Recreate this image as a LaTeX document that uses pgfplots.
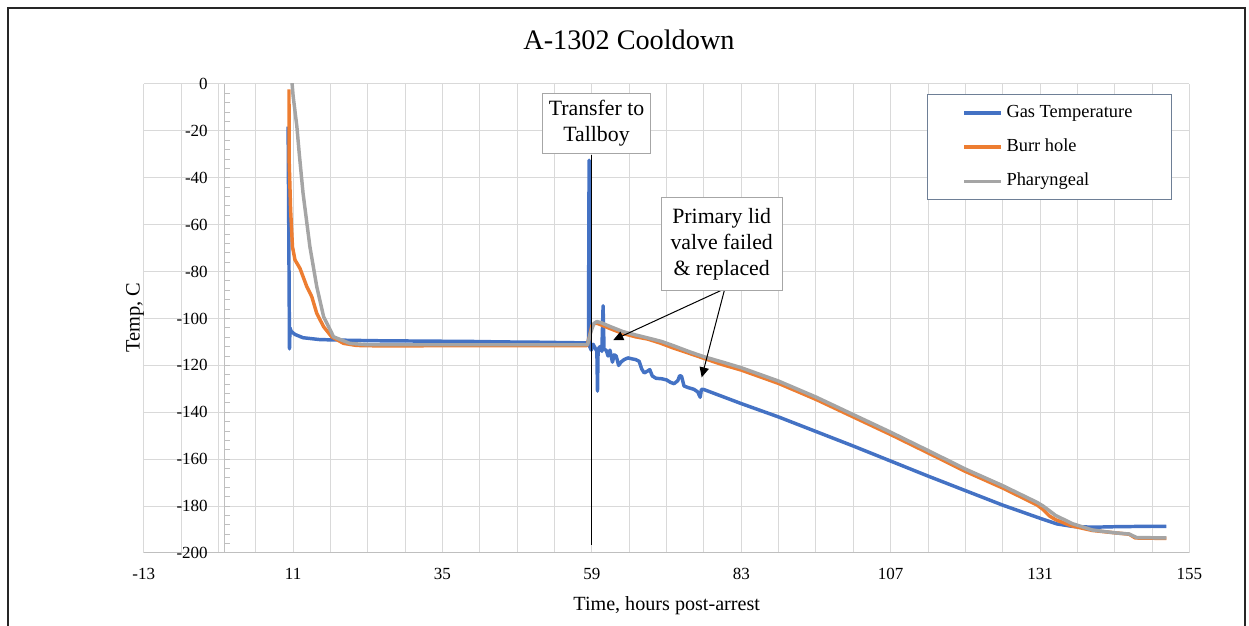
\documentclass[border=0pt]{standalone}
\usepackage{fontspec}
\setmainfont{Liberation Serif}
\usepackage{pgfplots}
\pgfplotsset{compat=1.18}
\usetikzlibrary{arrows.meta}

\definecolor{gasblue}{HTML}{4472C4}
\definecolor{burrorange}{HTML}{ED7D31}
\definecolor{pharygray}{HTML}{A5A5A5}
\definecolor{gridgray}{HTML}{D9D9D9}
\definecolor{axisgray}{HTML}{BFBFBF}
\definecolor{boxgray}{HTML}{A6A6A6}
\definecolor{legendgray}{HTML}{6E7F96}

\begin{document}
\begin{tikzpicture}
% page = 1249 x 626 px, 1 px = 0.75pt, plot area at px (143.7,84)-(1189.5,553)
\useasboundingbox (-107.78pt,-54.75pt) rectangle (829.0pt,414.75pt);
\draw[line width=1.1pt, black!85] (-101.8pt,-70pt) rectangle (826pt,408.75pt);
\begin{axis}[
    at={(0,0)}, anchor=south west,
    scale only axis, width=784.35pt, height=351.75pt,
    xmin=-13, xmax=155, ymin=-200, ymax=0,
    xtick={-13,11,...,155}, ytick={-200,-180,...,0},
    minor x tick num=3,
    grid=both,
    major grid style={draw=gridgray, line width=0.75pt},
    minor grid style={draw=gridgray, line width=0.75pt},
    major tick length=0pt, minor tick length=0pt,
    axis x line*=bottom, axis y line*=left,
    x axis line style={draw=axisgray, line width=0.75pt},
    y axis line style={draw=none},
    /pgf/number format/assume math mode=true,
    xticklabel style={font=\fontsize{12.75}{15}\selectfont, yshift=-7.7pt},
    yticklabel style={font=\fontsize{12.75}{15}\selectfont, anchor=east, inner xsep=0pt, xshift=48.2pt},
    title={A-1302 Cooldown},
    title style={at={(axis description cs:0.464,1.0555)}, anchor=base, font=\fontsize{21.2}{25}\selectfont},
    xlabel={Time, hours post-arrest},
    xlabel style={at={(axis description cs:0.5001,-0.1235)}, anchor=base, font=\fontsize{15.1}{18}\selectfont},
    ylabel={Temp, C},
    ylabel style={at={(axis description cs:-0.0040,0.502)}, anchor=base, rotate=0, font=\fontsize{15.3}{18}\selectfont},
    legend style={at={(0.7487,0.9787)}, anchor=north west, draw=legendgray, line width=1pt, fill=white,
        inner xsep=26.45pt, inner ysep=7.4pt, row sep=13.15pt,
        font=\fontsize{13.8}{16}\selectfont,
        nodes={inner xsep=2.6pt, inner ysep=0pt, text height=9.5pt, text depth=3pt}},
    legend cell align=left,
    legend image code/.code={\draw[#1, line width=2.6pt] (0pt,0pt) -- (27.75pt,0pt);},
]
\draw[axisgray, line width=0.75pt] (axis cs:0,-200) -- (axis cs:0,0);
\pgfplotsinvokeforeach{-196,-192,...,-4}{
    \draw[axisgray, line width=0.75pt] (axis cs:0,#1) -- ++(3.75pt,0pt);
}

\addplot[gasblue, line width=2.6pt, line join=round, mark=none] coordinates {
(10.2,-18.2) (10.3,-60) (10.42,-113) (10.5,-104) (10.7,-105.5) (11.3,-106.8) (12.6,-108.2)
(15.3,-109) (20,-109.3) (25,-109.5) (30,-109.6) (35,-109.7) (40,-109.8) (45,-110)
(50,-110.1) (55,-110.3) (58.2,-110.4) (58.45,-110.3) (58.55,-32.5) (58.65,-112)
(58.9,-113.5) (59.2,-111) (59.5,-112.5) (59.8,-114) (59.9,-131) (60.0,-113) (60.3,-112)
(60.6,-114) (60.8,-94.6) (60.95,-113) (61.3,-113.6) (61.6,-116) (61.9,-113.5) (62.3,-118.6)
(62.6,-115.5) (62.9,-116) (63.3,-120) (63.7,-118.5) (64.2,-117.5) (64.8,-116.8) (65.4,-117.2)
(66.0,-117.5) (66.6,-118.3) (67.0,-121.5) (67.4,-123.2) (67.9,-122.5) (68.3,-121.8)
(68.7,-124.5) (69.3,-125.5) (70.2,-125.7) (71.0,-126.2) (71.6,-127.2) (72.2,-127.8)
(72.8,-126.5) (73.1,-124.4) (73.4,-124.6) (73.8,-128.8) (74.5,-129.5) (75.4,-130.2)
(76.0,-131.3) (76.4,-133.6) (76.6,-130.2) (77.0,-130.3) (80,-133.3) (83,-136.3) (89,-142)
(95,-148.2) (101,-154.4) (107,-160.8) (113,-167.2) (119,-173.4) (125,-179.6) (131,-185.2)
(133.7,-187.6) (136.3,-188.7) (139.5,-189) (143,-188.8) (146,-188.7) (149,-188.6) (151.3,-188.7)
};
\addlegendentry{Gas Temperature}

\addplot[burrorange, line width=2.6pt, line join=round, mark=none] coordinates {
(10.34,-2.3) (10.36,-32) (10.6,-53.7) (10.9,-69.4) (11.3,-75) (12.1,-78.6) (13.2,-86.4)
(14.0,-90.7) (14.8,-97.8) (15.9,-103.5) (17.2,-107.8) (19.1,-110.6) (21.2,-111.5)
(25,-111.7) (35,-111.6) (45,-111.6) (58.2,-111.6) (58.6,-108) (59.0,-103) (59.5,-102)
(60.0,-102.2) (61,-103.3) (62.4,-104.8) (64,-106.4) (66,-107.8) (68,-108.8) (70,-110.5)
(72,-112.5) (74.8,-115) (77,-117) (80,-119.7) (83,-122) (89,-127.7) (95,-134.5)
(101,-142) (107,-149.5) (113,-157.3) (119,-165.2) (125,-172.3) (130.5,-179.5)
(131.5,-181.5) (132.5,-184.2) (133.5,-185.8) (136,-188.4) (139.4,-190.4) (143,-191.4)
(145.3,-192) (146.3,-193.6) (151.3,-193.8)
};
\addlegendentry{Burr hole}

\addplot[pharygray, line width=2.6pt, line join=round, mark=none] coordinates {
(10.75,3) (11.0,-5) (11.6,-18) (12.0,-30) (12.6,-46.6) (13.7,-69.4) (14.8,-86.4)
(15.9,-99.2) (17.5,-107.8) (20.1,-110.6) (23,-111.2) (35,-111.2) (45,-111.2) (58.3,-111.2)
(58.8,-106) (59.3,-102.2) (59.8,-101.3) (60.5,-101.8) (62,-103.5) (64,-105.6) (66,-107)
(68,-108.3) (70.2,-109.8) (72,-111.5) (74.8,-114.3) (77,-116.3) (80,-118.6) (83,-121)
(89,-126.7) (95,-133.5) (101,-141) (107,-148.5) (113,-156.3) (119,-164.2) (125,-171.3)
(130.5,-178.4) (131.5,-180) (133.5,-184) (136.2,-187.5) (139.4,-190.2) (143,-191.4)
(145.3,-191.9) (146.5,-193.4) (151.3,-193.6)
};
\addlegendentry{Pharyngeal}

\draw[black, line width=0.75pt] (axis cs:59,-30.3) -- (axis cs:59,-196.6);
\draw[black, line width=0.75pt, -{Triangle[length=7.5pt,width=7pt]}] (axis cs:79.95,-87.8) -- (axis cs:62.44,-109.2);
\draw[black, line width=0.75pt, -{Triangle[length=7.5pt,width=7pt]}] (axis cs:80.3,-87.8) -- (axis cs:76.64,-125.1);
\node[draw=boxgray, line width=0.75pt, fill=white, align=center, inner sep=0pt,
      minimum width=81.3pt, minimum height=44.5pt, font=\fontsize{16.35}{19.5}\selectfont]
      at (axis cs:59.74,-16.9) {Transfer to\\Tallboy};
\node[draw=boxgray, line width=0.75pt, fill=white, align=center, inner sep=0pt,
      minimum width=91pt, minimum height=70pt, font=\fontsize{16.35}{19.5}\selectfont]
      at (axis cs:79.85,-68.2) {Primary lid\\valve failed\\\& replaced};
\end{axis}
\end{tikzpicture}
\end{document}
